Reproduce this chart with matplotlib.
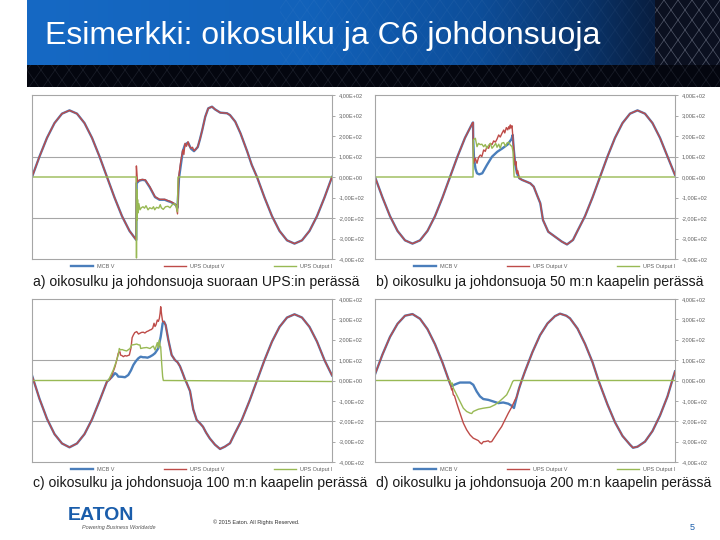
import numpy as np
import matplotlib.pyplot as plt
from matplotlib.colors import LinearSegmentedColormap
from matplotlib.patches import Rectangle

# Traces (time in ms, volts / amps)
# a) short circuit right after the UPS
a_pre_t = [0, 1, 2, 3, 4, 5, 6, 7, 8, 9, 10, 11, 12, 13, 13.9]
a_pre_v = [0, 100, 191, 263, 309, 325, 309, 263, 191, 100, 0, -100, -191, -263, -307]
a_blue_t = [13.95, 14.1, 14.3, 14.7, 15.1, 15.7, 16.4, 17.0, 17.7, 18.1, 18.5, 18.9, 19.2, 19.4,
            19.6, 19.85, 20.1, 20.4, 20.8, 21.2, 21.6, 22.1, 22.4, 22.7]
a_blue_v = [-30, -25, -18, -14, -16, -50, -98, -111, -111, -117, -122, -130, -138, -150,
            -5, 60, 125, 158, 168, 138, 126, 146, 185, 229]
a_red_t = [13.92, 14.05, 14.3, 14.7, 15.1, 15.7, 16.4, 17.0, 17.7, 18.1, 18.5, 18.9, 19.2, 19.4,
           19.56, 19.8, 20.1, 20.25, 20.4, 20.6, 20.8, 21.0, 21.2, 21.4, 21.6, 21.85, 22.1, 22.4, 22.7]
a_red_v = [54, -23, -15, -12, -14, -47, -96, -109, -109, -115, -120, -128, -135, -180,
           0, 68, 132, 110, 164, 150, 172, 150, 140, 145, 128, 135, 148, 185, 229]
a_post_t = [23.1, 23.5, 24.0, 24.4, 25.1, 26.0, 26.4, 27.1, 27.8, 28.7, 29.3,
            30, 31, 32, 33, 34, 35, 36, 37, 38, 39, 40]
a_post_v = [294, 335, 343, 330, 314, 311, 302, 270, 213, 124, 59,
            0, -100, -191, -263, -309, -325, -309, -263, -191, -100, 0]
a_cur_t = [0, 13.9, 13.93, 13.97, 14.02, 14.08, 14.15, 14.25, 14.4, 14.58, 14.8, 15.0, 15.2, 15.47,
           15.7, 16.0, 16.2, 16.36, 16.6, 16.9, 17.1, 17.24, 17.5, 17.8, 18.13, 18.4, 18.7, 19.02,
           19.2, 19.38, 19.47, 40]
a_cur_v = [0, 0, -395, -60, -210, -110, -175, -130, -160, -150, -145, -152, -140, -160,
           -150, -155, -145, -160, -148, -152, -135, -150, -158, -145, -143, -150, -135, -130,
           -140, -170, 0, 0]

# b) 50 m cable
b_pre_t = [0, 1, 2, 3, 4, 5, 6, 7, 8, 9, 10, 11, 12, 13, 13.07]
b_pre_v = [0, -100, -191, -263, -309, -325, -309, -263, -191, -100, 0, 100, 191, 263, 266]
b_blue_t = [13.1, 13.2, 13.4, 13.6, 13.9, 14.3, 14.93, 15.6, 16.3, 17.0, 17.7, 18.2, 18.36, 18.49,
            18.71, 18.93, 19.24, 19.6]
b_blue_v = [180, 90, 40, 18, 13, 18, 59, 99, 123, 140, 159, 185, 205, 140, 59, 18, -6, -14]
b_red_t = [13.1, 13.16, 13.38, 13.6, 13.8, 14.04, 14.25, 14.49, 14.7, 14.93, 15.15, 15.38, 15.6,
           15.82, 16.05, 16.27, 16.49, 16.7, 16.93, 17.16, 17.3, 17.51, 17.7, 17.82, 17.95, 18.04,
           18.15, 18.27, 18.36, 18.49, 18.6, 18.71, 18.8, 18.93, 19.05, 19.24, 19.6]
b_red_v = [150, 67, 91, 67, 95, 107, 100, 132, 125, 148, 140, 164, 158,
           176, 170, 185, 205, 195, 213, 229, 215, 241, 230, 245, 235, 254,
           240, 250, 205, 140, 90, 59, 75, 18, 30, -6, -14]
b_post_t = [20.2, 20.71, 21.16, 21.6, 22.04, 22.4, 23.1, 24.0, 24.9, 25.6, 26.4,
            27, 28, 29, 30, 31, 32, 33, 34, 35, 36, 37, 38, 39, 40]
b_post_v = [-23, -31, -47, -88, -128, -210, -267, -291, -315, -329, -307,
            -263, -191, -100, 0, 100, 191, 263, 309, 325, 309, 263, 191, 100, 10]
b_cur_t = [0, 13.07, 13.1, 13.38, 13.6, 13.8, 14.04, 14.25, 14.49, 14.7, 14.93, 15.15, 15.38, 15.6,
           15.82, 16.1, 16.27, 16.5, 16.7, 16.9, 17.16, 17.4, 17.6, 17.82, 18.04, 18.27, 18.4,
           18.55, 40]
b_cur_v = [0, 0, 181, 189, 148, 164, 158, 160, 148, 158, 140, 155, 164, 140,
           150, 164, 145, 160, 140, 165, 168, 150, 166, 170, 156, 148, 123, 0, 0]

# c) 100 m cable
c_pre_t = [0, 1, 2, 3, 4, 5, 6, 7, 8, 9, 10, 10.18]
c_pre_v = [25, -90, -188, -263, -309, -328, -309, -263, -191, -100, -5, 0]
c_blue_t = [10.62, 11.07, 11.3, 11.51, 12.0, 12.4, 12.84, 13.2, 13.51, 13.85, 14.18, 14.49, 14.8,
            15.07, 15.4, 15.73, 16.1, 16.4, 16.84, 17.16, 17.42]
c_blue_v = [16, 36, 30, 19, 18, 16, 27, 50, 76, 95, 109, 117, 114,
            114, 112, 117, 125, 134, 158, 215, 281]
c_red_t = [10.4, 10.7, 11.07, 11.3, 11.5, 11.73, 11.8, 12.0, 12.18, 12.4, 12.62, 12.98, 13.2,
           13.35, 13.51, 13.7, 13.96, 14.2, 14.4, 14.6, 14.84, 15.05, 15.29, 15.5, 15.73, 15.9,
           16.09, 16.27, 16.4, 16.53, 16.71, 16.85, 16.98, 17.08, 17.16, 17.29, 17.42]
c_red_v = [5, 30, 68, 100, 134, 141, 125, 122, 117, 122, 120, 125, 160,
           210, 223, 235, 240, 228, 232, 236, 237, 233, 240, 243, 248, 250,
           256, 281, 265, 273, 297, 290, 305, 330, 362, 321, 289]
c_post_t = [17.6, 17.82, 18.18, 18.62, 19.07, 19.4, 19.73, 20.1, 20.4, 20.6, 21.07, 21.5, 21.96,
            22.4, 22.8, 23.2, 23.7, 24.4, 25.07, 25.7, 26.4,
            27, 28, 29, 30, 31, 32, 33, 34, 35, 36, 37, 38, 39, 40]
c_post_v = [289, 272, 199, 125, 100, 90, 70, 35, 5, -10, -52, -142, -194,
            -210, -227, -255, -284, -315, -336, -325, -308,
            -263, -191, -100, 0, 100, 191, 263, 309, 325, 309, 263, 191, 100, 25]
c_cur_t = [0, 10.18, 10.5, 10.84, 11.2, 11.5, 11.64, 11.8, 12.0, 12.3, 12.62, 13.07, 13.29, 13.6,
           13.96, 14.2, 14.4, 14.49, 14.84, 15.29, 15.73, 16.0, 16.18, 16.4, 16.71, 16.85, 16.98,
           17.08, 17.16, 17.29, 17.42, 17.51, 40]
c_cur_v = [0, 0, 25, 52, 90, 125, 157, 150, 152, 148, 145, 157, 174, 176,
           179, 175, 174, 157, 160, 162, 157, 165, 169, 150, 186, 160, 199,
           170, 165, 84, 19, 0, -5]

# d) 200 m cable
d_pre_t = [0, 1, 2, 3, 4, 5, 6, 7, 8, 9, 10]
d_pre_v = [30, 128, 214, 278, 318, 326, 303, 252, 178, 88, -15]
d_blue_t = [10.2, 10.5, 10.89, 11.33, 12.0, 12.67, 13.1, 13.56, 14.0, 14.44, 15.1, 15.78, 16.44,
            17.1, 17.78, 18.22, 18.53]
d_blue_v = [-29, -22, -16, -10, -10, -10, -21, -54, -78, -91, -95, -103, -111,
            -108, -114, -124, -135]
d_red_t = [10.22, 10.3, 10.44, 10.6, 10.89, 11.33, 11.78, 12.22, 12.67, 13.1, 13.5, 13.78, 14.0,
           14.22, 14.45, 14.67, 15.1, 15.3, 15.56, 16.0, 16.44, 16.89, 17.33, 17.78, 18.22, 18.67]
d_red_v = [-46, -40, -70, -75, -111, -160, -209, -242, -267, -283, -290, -295, -305,
           -311, -300, -300, -296, -302, -300, -275, -250, -226, -193, -160, -131, -95]
d_post_t = [18.9, 19.2, 19.56, 20, 21, 22, 23, 24, 24.67, 25.5, 26, 27, 28, 29, 29.8,
            30, 31, 32, 33, 34, 34.4, 35, 36, 37, 38, 39, 40]
d_post_v = [-80, -40, 0, 45, 140, 222, 280, 316, 328, 318, 305, 255, 180, 90, 0,
            -20, -118, -205, -272, -315, -330, -325, -300, -248, -172, -78, 45]
d_cur_t = [0, 10.0, 10.2, 10.3, 10.44, 10.89, 11.33, 11.78, 12.22, 12.67, 12.9, 13.1, 13.78,
           14.44, 15.33, 16.0, 16.58, 17.1, 17.56, 18.0, 18.36, 18.5, 40]
d_cur_v = [0, 0, -21, -12, -37, -70, -103, -136, -152, -160, -162, -152, -141,
           -136, -131, -119, -103, -86, -70, -37, -5, 0, 0]

series_names = ["MCB V", "UPS Output V", "UPS Output I"]
series_colors = ["#4A7EBB", "#BE4B48", "#98B954"]
ytick_vals = [400, 300, 200, 100, 0, -100, -200, -300, -400]
ytick_labels = ["4,00E+02", "3,00E+02", "2,00E+02", "1,00E+02", "0,00E+00",
                "-1,00E+02", "-2,00E+02", "-3,00E+02", "-4,00E+02"]
grid_levels = [100, -200]
captions = ["a) oikosulku ja johdonsuoja suoraan UPS:in perässä",
            "b) oikosulku ja johdonsuoja 50 m:n kaapelin perässä",
            "c) oikosulku ja johdonsuoja 100 m:n kaapelin perässä",
            "d) oikosulku ja johdonsuoja 200 m:n kaapelin perässä"]
title = "Esimerkki: oikosulku ja C6 johdonsuoja"

panels = [
    (a_pre_t + a_blue_t + a_post_t, a_pre_v + a_blue_v + a_post_v,
     a_pre_t + a_red_t + a_post_t, a_pre_v + a_red_v + a_post_v, a_cur_t, a_cur_v),
    (b_pre_t + b_blue_t + b_post_t, b_pre_v + b_blue_v + b_post_v,
     b_pre_t + b_red_t + b_post_t, b_pre_v + b_red_v + b_post_v, b_cur_t, b_cur_v),
    (c_pre_t + c_blue_t + c_post_t, c_pre_v + c_blue_v + c_post_v,
     c_pre_t + c_red_t + c_post_t, c_pre_v + c_red_v + c_post_v, c_cur_t, c_cur_v),
    (d_pre_t + d_blue_t + d_post_t, d_pre_v + d_blue_v + d_post_v,
     d_pre_t + d_red_t + d_post_t, d_pre_v + d_red_v + d_post_v, d_cur_t, d_cur_v),
]

plt.rcParams['font.family'] = ['Liberation Sans', 'DejaVu Sans']
W, H = 720, 540
fig = plt.figure(figsize=(7.2, 5.4), dpi=100)

# slide header: blue gradient band, dark strip and mesh decoration
bg = fig.add_axes([0, 0, 1, 1])
cmap = LinearSegmentedColormap.from_list(
    'band', [(0, '#1669C4'), (0.45, '#1262BA'), (0.72, '#0D4E9A'), (0.9, '#0A3368'), (1, '#081E40')])
bg.imshow(np.linspace(0, 1, 256)[None, :], cmap=cmap, extent=(27, 655, 65, 0), aspect='auto')
bg.add_patch(Rectangle((27, 65), 693, 22, color='#04060f', lw=0))
bg.add_patch(Rectangle((655, 0), 65, 65, color='#0B1020', lw=0))
band = Rectangle((27, 65), 693, 22, transform=bg.transData)
block = Rectangle((655, 0), 65, 65, transform=bg.transData)
blue = Rectangle((280, 0), 375, 65, transform=bg.transData)
for c in range(-120, 860, 14):
    for s in (1, -1):
        for clip, col, al in ((block, '#a8b0c4', 0.45), (band, '#8a93a8', 0.18), (blue, '#9ab8e0', 0.08)):
            ln, = bg.plot([c, c + s * 70], [0, 100], color=col, lw=0.5, alpha=al)
            ln.set_clip_path(clip)
bg.set_xlim(0, W)
bg.set_ylim(H, 0)
bg.axis('off')

fig.text(45 / W, 1 - 44 / H, title, color='white', fontsize=23, va='baseline')

boxes = [(32, 95, 300, 164), (375, 95, 300, 164), (32, 299, 300, 163), (375, 299, 300, 163)]
cap_y = [282, 282, 483, 483]
for (x, y, w, h), (bt, bv, rt, rv, ct, cv), cap, cy in zip(boxes, panels, captions, cap_y):
    ax = fig.add_axes([x / W, 1 - (y + h) / H, w / W, h / H])
    for lev in grid_levels:
        ax.axhline(lev, color='#A6A6A6', lw=0.8, zorder=0)
    l1, = ax.plot(bt, bv, color=series_colors[0], lw=1.7)
    l2, = ax.plot(rt, rv, color=series_colors[1], lw=1.0)
    l3, = ax.plot(ct, cv, color=series_colors[2], lw=1.0)
    ax.set_xlim(0, 40)
    ax.set_ylim(-400, 400)
    ax.set_xticks([])
    ax.yaxis.tick_right()
    ax.set_yticks(ytick_vals)
    ax.set_yticklabels(ytick_labels)
    ax.tick_params(axis='y', length=2, width=0.6, color='#9A9A9A', labelsize=4,
                   labelcolor='#606060', pad=3)
    for sp in ax.spines.values():
        sp.set_color('#A6A6A6')
        sp.set_linewidth(0.8)
    leg = ax.legend([l1, l2, l3], series_names, loc='center', bbox_to_anchor=(0.565, -0.045),
                    ncol=3, frameon=False, fontsize=4, handlelength=4, columnspacing=9,
                    handletextpad=0.6)
    for t in leg.get_texts():
        t.set_color('#606060')
    fig.text((x + 1) / W, 1 - cy / H, cap, fontsize=10.1, color='#1a1a1a', va='center')

# footer
fig.text(68 / W, 1 - 515 / H, "EATON", fontsize=14, fontweight='bold', color='#1A5DAB',
         va='center')
fig.text(82 / W, 1 - 528 / H, "Powering Business Worldwide", fontsize=4, style='italic',
         color='#555555', va='center')
fig.text(213 / W, 1 - 522 / H, "© 2015 Eaton. All Rights Reserved.", fontsize=4,
         color='#333333', va='center')
fig.text(690 / W, 1 - 527 / H, "5", fontsize=6.5, color='#1A5DAB', va='center')

fig.savefig('out.png', dpi=100)
